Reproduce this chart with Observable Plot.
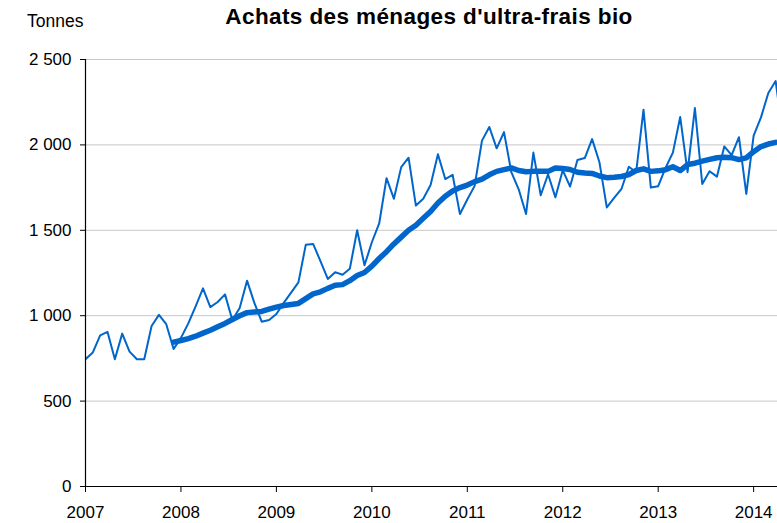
<!DOCTYPE html>
<html>
<head>
<meta charset="utf-8">
<script src="https://cdn.jsdelivr.net/npm/d3@7"></script>
<script src="https://cdn.jsdelivr.net/npm/@observablehq/plot@0.6"></script>
<style>
  html, body { margin: 0; padding: 0; background: #fff; overflow: hidden; }
  #wrap { position: relative; width: 777px; height: 523px; font-family: "Liberation Sans", Arial, sans-serif; }
  #title { position: absolute; top: 4px; left: 429px; transform: translateX(-50%); white-space: nowrap;
           font-weight: bold; font-size: 22.5px; letter-spacing: 0.4px; color: #000; line-height: 1.15; }
  #unit { position: absolute; top: 11px; left: 27px; font-size: 17.5px; color: #000; line-height: 1.15; }
  #chart { position: absolute; top: 0; left: 0; }
</style>
</head>
<body>
<div id="wrap">
  <div id="chart"></div>
  <div id="title">Achats des ménages d'ultra-frais bio</div>
  <div id="unit">Tonnes</div>
</div>
<script>
// Years shown on the x axis (13 four-week periods per year)
const years = [2007, 2008, 2009, 2010, 2011, 2012, 2013, 2014];
const periodsPerYear = 13;
const startYear = 2007;

// 4-week period household purchases, tonnes — from P1 2007
const achats = [
  745, 785, 885, 905, 745, 895, 790, 745, 745, 940, 1005, 950, 805,
  870, 955, 1055, 1160, 1050, 1080, 1125, 975, 1045, 1205, 1075, 965, 975,
  1010, 1075, 1135, 1195, 1415, 1420, 1320, 1215, 1255, 1240, 1275, 1500, 1295,
  1430, 1540, 1805, 1685, 1870, 1925, 1645, 1685, 1765, 1945, 1800, 1825, 1595,
  1680, 1760, 2025, 2105, 1980, 2075, 1840, 1740, 1595, 1955, 1705, 1828, 1693,
  1852, 1756, 1912, 1923, 2034, 1898, 1634, 1690, 1742, 1872, 1840, 2206, 1750,
  1758, 1865, 1955, 2163, 1840, 2216, 1771, 1846, 1814, 1991, 1940, 2045, 1713,
  2055, 2161, 2304, 2374, 2050
];

// Moving average (thick line) — starts at P13 2007 (index 12)
const maStart = 12;
const moyenneMobile = [
  845, 855, 866, 880, 898, 915, 935, 955, 978, 1000, 1018, 1022, 1025, 1038,
  1050, 1060, 1066, 1072, 1100, 1128, 1140, 1160, 1178, 1182, 1205, 1235, 1253,
  1290, 1335, 1375, 1420, 1460, 1500, 1530, 1570, 1610, 1660, 1700, 1730, 1750,
  1765, 1785, 1800, 1825, 1845, 1855, 1865, 1850, 1843, 1845, 1845, 1845, 1865,
  1862, 1856, 1840, 1835, 1833, 1818, 1808, 1810, 1815, 1826, 1850, 1860, 1845,
  1848, 1855, 1872, 1850, 1885, 1893, 1905, 1915, 1925, 1927, 1925, 1914, 1924,
  1960, 1990, 2005, 2015
];

const yTicks = [0, 500, 1000, 1500, 2000, 2500];

const thin = achats.map((v, i) => ({t: startYear + i / periodsPerYear, v}));
const thick = moyenneMobile.map((v, i) => ({t: startYear + (i + maStart) / periodsPerYear, v}));

const blue = "#0066cc";
const fmt = d => d3.format(",")(d).replace(/,/g, " ");

const chart = Plot.plot({
  width: 777,
  height: 523,
  marginLeft: 85,
  marginRight: 0,
  marginTop: 59,
  marginBottom: 37,
  style: {fontFamily: "'Liberation Sans', Arial, sans-serif", fontSize: "17px", background: "white", color: "#000"},
  x: {domain: [2007, 2014.25]},
  y: {domain: [0, 2500]},
  marks: [
    Plot.gridY(yTicks.filter(d => d > 0), {stroke: "#c8c8c8", strokeOpacity: 1, strokeWidth: 1}),
    Plot.lineY(thin, {x: "t", y: "v", stroke: blue, strokeWidth: 2, clip: true}),
    Plot.lineY(thick, {x: "t", y: "v", stroke: blue, strokeWidth: 5.5, clip: true}),
    Plot.ruleX([2007], {stroke: "#000", strokeWidth: 1.2}),
    Plot.ruleY([0], {stroke: "#000", strokeWidth: 1.2}),
    Plot.axisY(yTicks, {tickSize: 5, tickPadding: 9, tickFormat: fmt, label: null, fontSize: 17}),
    Plot.axisX(years, {tickSize: 6, tickPadding: 13, tickFormat: d => String(d), label: null, fontSize: 17})
  ]
});
document.getElementById("chart").appendChild(chart);
</script>
</body>
</html>
